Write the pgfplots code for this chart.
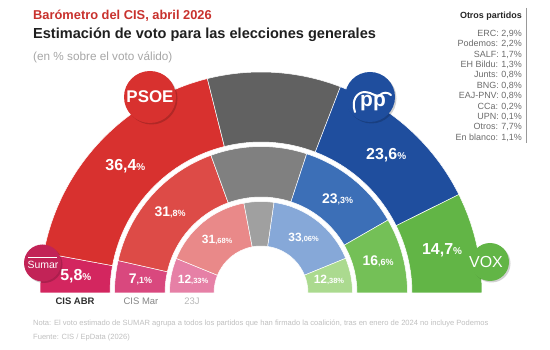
\documentclass[border=0pt]{standalone}
\usepackage{pgfplots}
\pgfplotsset{compat=1.18}
\usepackage{pgfplotstable}
\usepackage{fontspec}
\setmainfont{Liberation Sans}

% colour index: 1 Sumar, 2 PSOE, 3 Otros, 4 PP, 5 VOX
\definecolor{a1}{HTML}{D3265F}
\definecolor{a2}{HTML}{D8312F}
\definecolor{a3}{HTML}{616161}
\definecolor{a4}{HTML}{1F4E9E}
\definecolor{a5}{HTML}{62B546}
\definecolor{m1}{HTML}{D9487E}
\definecolor{m2}{HTML}{DD4B47}
\definecolor{m3}{HTML}{808080}
\definecolor{m4}{HTML}{3C6FB7}
\definecolor{m5}{HTML}{74C057}
\definecolor{i1}{HTML}{E680A6}
\definecolor{i2}{HTML}{E98989}
\definecolor{i3}{HTML}{A0A0A0}
\definecolor{i4}{HTML}{86A8D8}
\definecolor{i5}{HTML}{ABDA8F}
\definecolor{titred}{HTML}{C8312D}

% CIS abril 2026
\pgfplotstableread{
c v
1 5.8
2 36.4
3 19.5
4 23.6
5 14.7
}\abr
% CIS marzo
\pgfplotstableread{
c v
1 7.1
2 31.8
3 21.2
4 23.3
5 16.6
}\mar
% 23J
\pgfplotstableread{
c v
1 12.33
2 31.68
3 10.55
4 33.06
5 12.38
}\jul

\gdef\cumglob{0}
\pgfdeclareplotmark{nothing}{}

\pgfplotsset{
  ring/.style n args={5}{
    scatter, only marks, mark=nothing,
    execute at begin plot visualization={\gdef\cumglob{0}},
    visualization depends on={\thisrow{c} \as \cc},
    visualization depends on={\thisrow{v} \as \vv},
    scatter/@pre marker code/.code={%
      \pgfmathsetmacro\aS{180-1.8*\cumglob}%
      \pgfmathsetmacro\cumnew{\cumglob+\vv}%
      \xdef\cumglob{\cumnew}%
      \pgfmathsetmacro\aE{180-1.8*\cumglob}%
      \pgfmathsetmacro\aM{(\aS+\aE)/2}%
      \pgfmathsetmacro\rmid{(#2+#3)/2}%
      \pgfmathtruncatemacro\ci{round(\cc)}%
      \edef\cname{#1\ci}%
      \fill[fill=\cname, draw=white, line width=0.5pt] (\aS:#2bp) arc[start angle=\aS, end angle=\aE, radius=#2bp] -- (\aE:#3bp) arc[start angle=\aE, end angle=\aS, radius=#3bp] -- cycle;
      \ifnum\ci=3\relax\else
        \pgfmathtruncatemacro\tot{round(\vv*#5)}%
        \pgfmathtruncatemacro\ip{floor(\tot/#5)}%
        \pgfmathtruncatemacro\dn{\tot-#5*\ip}%
        \ifnum#5=100\relax\ifnum\dn<10\relax\edef\dq{0\dn}\else\edef\dq{\dn}\fi\else\edef\dq{\dn}\fi
        \node[text=white, inner sep=0pt] at (\aM:\rmid bp) {#4};
      \fi
    },
    scatter/@post marker code/.code={},
  }
}

\begin{document}
\begin{tikzpicture}
\useasboundingbox (0,0) rectangle (550bp,350bp);
\begin{axis}[x=1bp, y=1bp, xmin=0, xmax=550, ymin=0, ymax=350,
  hide axis, clip=false, anchor=south west, at={(0,0)}]
\addplot[ring={a}{151}{221}{\fontsize{16}{16}\selectfont\bfseries\ip,\dq{\fontsize{10}{10}\selectfont\%}}{10}]
  table[x expr=261, y expr=57]{\abr};
\addplot[ring={m}{96}{146.5}{\fontsize{14}{14}\selectfont\bfseries\ip{\fontsize{9}{9}\selectfont,\dq\%}}{10}]
  table[x expr=261, y expr=57]{\mar};
\addplot[ring={i}{47}{91.5}{\fontsize{12}{12}\selectfont\bfseries\ip{\fontsize{7.5}{7.5}\selectfont,\dq\%}}{100}]
  table[x expr=261, y expr=57]{\jul};
\end{axis}

% titles
\node[anchor=base west, text=titred, font=\bfseries\fontsize{12.9}{12.9}\selectfont, inner sep=0] at (33bp,330.5bp) {Barómetro del CIS, abril 2026};
\node[anchor=base west, text=black!88, font=\bfseries\fontsize{14.6}{14.6}\selectfont, inner sep=0] at (33bp,311bp) {Estimación de voto para las elecciones generales};
\node[anchor=base west, text=black!35, font=\fontsize{11.8}{11.8}\selectfont, inner sep=0] at (33bp,289bp) {(en \% sobre el voto válido)};

% otros partidos
\node[anchor=base east, text=black!85, font=\bfseries\fontsize{9}{9}\selectfont, inner sep=0] at (522bp,331.5bp) {Otros partidos};
\foreach \t [count=\k from 0] in {{ERC: 2,9\%}, {Podemos: 2,2\%}, {SALF: 1,7\%}, {EH Bildu: 1,3\%}, {Junts: 0,8\%}, {BNG: 0,8\%}, {EAJ-PNV: 0,8\%}, {CCa: 0,2\%}, {UPN: 0,1\%}, {Otros: 7,7\%}, {En blanco: 1,1\%}}{
  \node[anchor=base east, text=black!58, font=\fontsize{9}{9}\selectfont, inner sep=0] at (522bp,{(313.7-10.4*\k)*1bp}) {\t};
}
\draw[black!40, line width=0.8pt] (526bp,342bp) -- (526bp,207bp);

% logos (with a soft shadow)
\fill[black, opacity=0.18] (44bp,85.5bp) circle (18.5bp);
\fill[a1!92!black] (42.5bp,87bp) circle (18.5bp);
\node[text=white, font=\fontsize{10.5}{10.5}\selectfont, inner sep=0] at (43bp,85bp) {Sumar};
\draw[white, line width=0.7pt] (28bp,92.5bp) -- (57bp,92.5bp);

\fill[black, opacity=0.18] (151.5bp,251.5bp) circle (26bp);
\fill[a2] (150bp,253bp) circle (26bp);
\node[text=white, font=\bfseries\fontsize{17}{17}\selectfont, inner sep=0] at (150bp,253bp) {PSOE};

\fill[black, opacity=0.18] (371.5bp,251.5bp) circle (25bp);
\fill[a4] (370bp,253bp) circle (25bp);
\node[anchor=base, text=white, font=\bfseries\fontsize{21}{21}\selectfont, inner sep=0] at (373bp,243bp) {pp};
\draw[white, line width=2bp, line cap=round] (355bp,238bp) .. controls (351bp,250bp) and (357bp,258bp) .. (365bp,258bp) .. controls (372bp,258bp) and (376bp,252bp) .. (380bp,255bp) .. controls (383bp,258bp) and (388bp,258bp) .. (391bp,255bp);

\fill[black, opacity=0.18] (491.5bp,86.5bp) circle (19bp);
\fill[a5] (490bp,88bp) circle (19bp);
\node[text=white, font=\fontsize{16}{16}\selectfont, inner sep=0] at (486bp,88bp) {VOX};

% ring names
\node[anchor=base, text=black!82, font=\bfseries\fontsize{9.5}{9.5}\selectfont, inner sep=0] at (75bp,45.5bp) {CIS ABR};
\node[anchor=base, text=black!48, font=\fontsize{9.5}{9.5}\selectfont, inner sep=0] at (141bp,45.5bp) {CIS Mar};
\node[anchor=base, text=black!28, font=\fontsize{9.5}{9.5}\selectfont, inner sep=0] at (192bp,45.5bp) {23J};

% note
\node[anchor=base west, text=black!25, font=\fontsize{7.6}{7.6}\selectfont, inner sep=0] at (33bp,24.5bp) {Nota: El voto estimado de SUMAR agrupa a todos los partidos que han firmado la coalición, tras en enero de 2024 no incluye Podemos};
\node[anchor=base west, text=black!25, font=\fontsize{7.6}{7.6}\selectfont, inner sep=0] at (33bp,10.5bp) {Fuente: CIS / EpData (2026)};
\end{tikzpicture}
\end{document}
